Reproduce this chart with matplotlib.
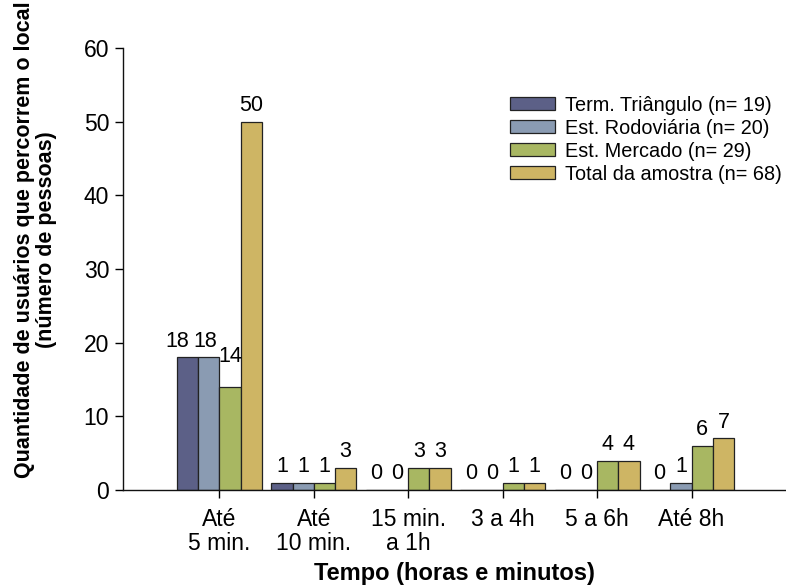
import matplotlib
matplotlib.use("Agg")
import matplotlib.pyplot as plt
import numpy as np

plt.rcParams['font.family'] = ['Liberation Sans', 'DejaVu Sans']

categories = ["Até\n5 min.", "Até\n10 min.", "15 min.\na 1h", "3 a 4h", "5 a 6h", "Até 8h"]
series_names = ["Term. Triângulo (n= 19)", "Est. Rodoviária (n= 20)",
                "Est. Mercado (n= 29)", "Total da amostra (n= 68)"]
term_triangulo = [18, 1, 0, 0, 0, 0]
est_rodoviaria = [18, 1, 0, 0, 0, 1]
est_mercado = [14, 1, 3, 1, 4, 6]
total_amostra = [50, 3, 3, 1, 4, 7]
yticks = [0, 10, 20, 30, 40, 50, 60]

series = [term_triangulo, est_rodoviaria, est_mercado, total_amostra]
colors = ["#5c6087", "#8a9bb2", "#a8b762", "#ceb564"]

# label nudges (in points) for the crowded first group: (series, category) -> (dx, dy)
nudges = {(0, 0): (-7.5, 0), (1, 0): (-2.5, 0), (2, 0): (0, 10)}

fig = plt.figure(figsize=(7.86, 5.87), dpi=100)
ax = fig.add_axes([123 / 786, 1 - 490 / 587, 1 - 123 / 786, (490 - 48) / 587])

x = np.arange(len(categories))
w = 0.225
offsets = (np.arange(4) - 1.5) * w

for i, (vals, col, name, off) in enumerate(zip(series, colors, series_names, offsets)):
    bars = ax.bar(x + off, vals, width=w, color=col, edgecolor="#222222",
                  linewidth=0.9, label=name, zorder=2)
    for j, (b, v) in enumerate(zip(bars, vals)):
        dx, dy = nudges.get((i, j), (0, 0))
        ax.annotate(str(v), (b.get_x() + b.get_width() / 2, v),
                    xytext=(dx, 4 + dy), textcoords="offset points",
                    ha="center", va="bottom", fontsize=15.5)

ax.set_xlim(-1.02, 6.0)
ax.set_ylim(0, 60)
ax.set_yticks(yticks)
ax.set_xticks(x)
ax.set_xticklabels(categories, fontsize=16.5, linespacing=1.08)
ax.tick_params(axis="y", labelsize=16.5, direction="out", length=6, width=1, pad=4)
ax.tick_params(axis="x", direction="out", length=6, width=1, pad=7)

for s in ["top", "right"]:
    ax.spines[s].set_visible(False)
for s in ["left", "bottom"]:
    ax.spines[s].set_linewidth(1)
    ax.spines[s].set_color("#111111")

ax.set_xlabel("Tempo (horas e minutos)", fontsize=17, fontweight="bold", labelpad=5)
ax.set_ylabel("Quantidade de usuários que percorrem o local\n(número de pessoas)",
              fontsize=15.5, fontweight="bold", linespacing=1.05)
ax.yaxis.set_label_coords(-0.100, 0.566)

ax.legend(loc="upper left", bbox_to_anchor=(0.571, 0.91), frameon=False,
          fontsize=14.3, handlelength=2.3, handleheight=0.6, handletextpad=0.5,
          labelspacing=0.2, borderaxespad=0)

fig.savefig("out.png", dpi=100)
